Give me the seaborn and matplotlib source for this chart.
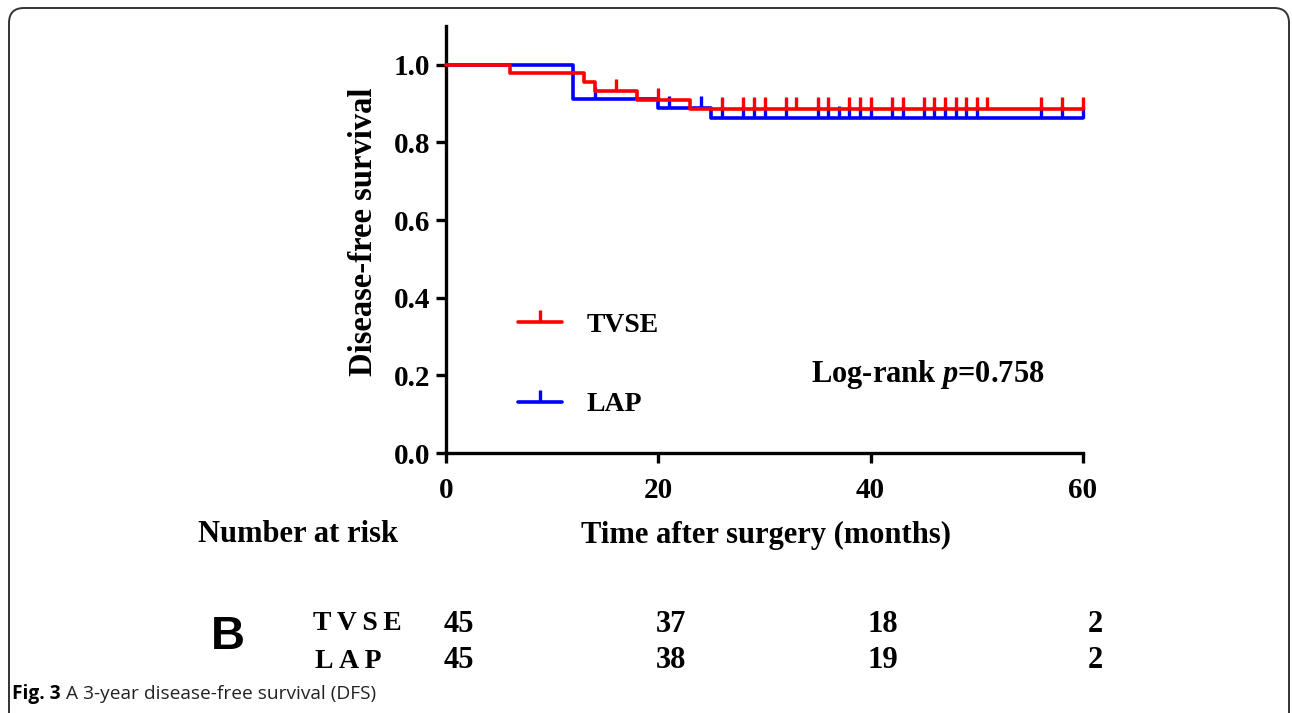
import numpy as np
import pandas as pd
import matplotlib
matplotlib.use("Agg")
import matplotlib.pyplot as plt
from matplotlib.lines import Line2D
from matplotlib.patches import FancyBboxPatch
import seaborn as sns

# ---------------- data ----------------
groups = ["TVSE", "LAP"]
tvse_times = [0, 6, 13, 14, 18, 23, 60]
tvse_surv = [1.0, 0.978, 0.956, 0.933, 0.910, 0.886, 0.886]
lap_times = [0, 12, 20, 25, 60]
lap_surv = [1.0, 0.911, 0.888, 0.864, 0.864]
tvse_censor = [16, 20, 26, 28, 29, 30, 32, 33, 35, 36, 38, 39, 40, 42, 43,
               45, 46, 47, 48, 49, 50, 51, 56, 58, 60]
lap_censor = [14, 21, 24, 26, 28, 29, 30, 32, 35, 36, 37, 38, 39, 40, 42, 43,
              45, 46, 47, 48, 49, 50, 56, 58, 60]
risk_times = [0, 20, 40, 60]
risk_tvse = [45, 37, 18, 2]
risk_lap = [45, 38, 19, 2]
x_ticks = [0, 20, 40, 60]
y_ticks = [0.0, 0.2, 0.4, 0.6, 0.8, 1.0]
pvalue = "0.758"
colors = {"TVSE": "#FF0000", "LAP": "#0000FF"}

# ---------------- build frames ----------------
curve = pd.concat([
    pd.DataFrame({"time": tvse_times, "surv": tvse_surv, "group": "TVSE"}),
    pd.DataFrame({"time": lap_times, "surv": lap_surv, "group": "LAP"}),
], ignore_index=True)

def step_value(times, surv, t):
    idx = np.searchsorted(times, t, side="right") - 1
    return surv[idx]

cens = pd.concat([
    pd.DataFrame({"time": tvse_censor,
                  "surv": [step_value(tvse_times, tvse_surv, t) for t in tvse_censor],
                  "group": "TVSE"}),
    pd.DataFrame({"time": lap_censor,
                  "surv": [step_value(lap_times, lap_surv, t) for t in lap_censor],
                  "group": "LAP"}),
], ignore_index=True)

# ---------------- styling ----------------
sns.set_theme(style="ticks")
plt.rcParams["font.family"] = ["Liberation Serif", "DejaVu Serif"]
plt.rcParams["font.weight"] = "bold"
plt.rcParams["text.color"] = "black"
plt.rcParams["axes.labelcolor"] = "black"
plt.rcParams["xtick.color"] = "black"
plt.rcParams["ytick.color"] = "black"
plt.rcParams["mathtext.fontset"] = "custom"
plt.rcParams["mathtext.rm"] = "Liberation Serif:bold"
plt.rcParams["mathtext.it"] = "Liberation Serif:italic:bold"
plt.rcParams["mathtext.bf"] = "Liberation Serif:bold"

W, H = 1292, 713
fig = plt.figure(figsize=(W / 100, H / 100), dpi=100)
fig.patch.set_facecolor("white")

def fx(px):
    return px / W

def fy(py):
    return 1 - py / H

ax = fig.add_axes([fx(446), fy(453), fx(1083) - fx(446), fy(26) - fy(453)])

for g in ["LAP", "TVSE"]:
    sub = curve[curve.group == g]
    z = 3 if g == "TVSE" else 2
    sns.lineplot(data=sub, x="time", y="surv", color=colors[g], lw=2.6,
                 drawstyle="steps-post", estimator=None, ax=ax, legend=False,
                 clip_on=False, zorder=z)
    csub = cens[cens.group == g]
    ax.plot(csub["time"], csub["surv"], ls="none", marker=2, ms=9, mew=2.4,
            color=colors[g], clip_on=False, zorder=z)

ax.set_xlim(0, 60)
ax.set_ylim(0, 1.1)
ax.set_xticks(x_ticks)
ax.set_yticks(y_ticks)
ax.set_xticklabels([str(t) for t in x_ticks], fontsize=21, fontweight="bold")
ax.set_yticklabels([f"{t:.1f}" for t in y_ticks], fontsize=21, fontweight="bold")
sns.despine(ax=ax)
for s in ["left", "bottom"]:
    ax.spines[s].set_linewidth(2.4)
    ax.spines[s].set_color("black")
ax.tick_params(axis="x", length=7, width=2.4, pad=10, colors="black")
ax.tick_params(axis="y", length=7, width=2.4, pad=4.5, colors="black")
ax.set_xlabel("Time after surgery (months)", fontsize=22, fontweight="bold")
ax.set_ylabel("Disease-free survival", fontsize=23.5, fontweight="bold")
ax.xaxis.set_label_coords((766 - 446) / 637, (453 - 535) / 427)
ax.yaxis.set_label_coords((363 - 446) / 637, (453 - 232) / 427)
ax.xaxis.label.set_va("center")
ax.yaxis.label.set_va("center")
ax.set_facecolor("white")

# legend
handles = [Line2D([0], [0], color=colors[g], lw=2.6, marker=2, ms=9, mew=2.4)
           for g in groups]
leg = ax.legend(handles, groups, loc="upper left", bbox_to_anchor=(0.073, 0.387),
                frameon=False, fontsize=20, handlelength=1.6, handletextpad=0.9,
                labelspacing=1.93, numpoints=1)
for t in leg.get_texts():
    t.set_fontweight("bold")
    t.set_color("black")

fig.text(fx(928), fy(374), "Log-rank $p$=" + pvalue, fontsize=22, fontweight="bold",
         ha="center", va="center")

# number at risk
fig.text(fx(298), fy(535), "Number at risk", fontsize=22, fontweight="bold",
         ha="center", va="center")
fig.text(fx(228), fy(637), "B", fontsize=34, fontweight="bold",
         family=["Liberation Sans", "DejaVu Sans"], ha="center", va="center")
fig.text(fx(313), fy(624), "T V S E".replace(" ", "\u2009"), fontsize=20,
         fontweight="bold", ha="left", va="center")
fig.text(fx(315), fy(661), "L A P".replace(" ", "\u2009"), fontsize=20,
         fontweight="bold", ha="left", va="center")
trans = matplotlib.transforms.blended_transform_factory(ax.transData, fig.transFigure)
for t, a, b in zip(risk_times, risk_tvse, risk_lap):
    ax.annotate(str(a), xy=(t, fy(624)), xycoords=trans, xytext=(9, 0),
                textcoords="offset points", fontsize=22, fontweight="bold",
                ha="center", va="center", annotation_clip=False)
    ax.annotate(str(b), xy=(t, fy(661)), xycoords=trans, xytext=(9, 0),
                textcoords="offset points", fontsize=22, fontweight="bold",
                ha="center", va="center", annotation_clip=False)

# caption
cap_bold = fig.text(fx(12), fy(694), "Fig. 3", fontsize=13.8, fontweight="bold",
                    family=["Open Sans", "DejaVu Sans"], ha="left", va="center")
fig.canvas.draw()
bb = cap_bold.get_window_extent()
fig.text(bb.x1 / W + 0.004, fy(694), "A 3-year disease-free survival (DFS)",
         fontsize=13.8, fontweight="normal", family=["Open Sans", "DejaVu Sans"],
         ha="left", va="center", color="#222222")

# rounded frame
frame = FancyBboxPatch((0.09, -0.6), 12.80, 7.05 + 0.6,
                       boxstyle="round,pad=0,rounding_size=0.15",
                       transform=fig.dpi_scale_trans, fill=False,
                       edgecolor="#333333", lw=1.4)
fig.patches.append(frame)

fig.savefig("out.png", dpi=100, facecolor="white")
